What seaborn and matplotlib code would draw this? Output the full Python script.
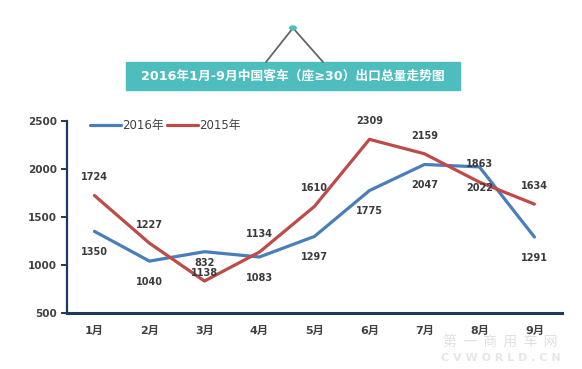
import numpy as np
import pandas as pd
import seaborn as sns
import matplotlib.pyplot as plt
from matplotlib.patches import Rectangle, Circle
from matplotlib.lines import Line2D

# data
months = ['1月', '2月', '3月', '4月', '5月', '6月', '7月', '8月', '9月']
sales_2016 = [1350, 1040, 1138, 1083, 1297, 1775, 2047, 2022, 1291]
sales_2015 = [1724, 1227, 832, 1134, 1610, 2309, 2159, 1863, 1634]
series_names = ['2016年', '2015年']
title_text = '2016年1月-9月中国客车（座≥30）出口总量走势图'

df = pd.DataFrame({
    'month': list(range(len(months))) * 2,
    'value': sales_2016 + sales_2015,
    'year': [series_names[0]] * len(months) + [series_names[1]] * len(months),
})

sns.set_theme(style='white')
plt.rcParams['font.family'] = ['DejaVu Sans', 'Noto Sans CJK SC']

fig = plt.figure(figsize=(5.82, 3.69), dpi=100)
ax = fig.add_axes([0.115, 0.152, 0.8505, 0.520])

colors = {series_names[0]: '#4a7ebb', series_names[1]: '#be4b48'}
sns.lineplot(data=df, x='month', y='value', hue='year', palette=colors,
             linewidth=2.3, ax=ax, legend=False)

ax.set_xlim(-0.5, len(months) - 0.5)
ax.set_ylim(500, 2500)
ax.set_yticks([500, 1000, 1500, 2000, 2500])
ax.set_xticks(range(len(months)))
ax.set_xticklabels(months)
ax.set_xticks(np.arange(-0.5, len(months)), minor=True)
ax.set_xlabel('')
ax.set_ylabel('')

navy = '#1d3a5a'
for s in ['top', 'right']:
    ax.spines[s].set_visible(False)
ax.spines['left'].set_color(navy)
ax.spines['left'].set_linewidth(1.6)
ax.spines['bottom'].set_color(navy)
ax.spines['bottom'].set_linewidth(2.2)
ax.tick_params(axis='x', which='major', length=0, pad=9, labelsize=8,
               labelcolor='#404040')
ax.tick_params(axis='x', which='minor', length=4, width=1.6, color=navy,
               direction='inout')
ax.tick_params(axis='y', length=4, width=1.4, color=navy, direction='out',
               labelsize=7.5, labelcolor='#404040', pad=3, left=True)
for lab in ax.get_yticklabels() + ax.get_xticklabels():
    lab.set_fontweight('bold')

# value labels: 2015 above the red line, 2016 below the blue line
for i, v in enumerate(sales_2015):
    ax.annotate(str(v), (i, v), xytext=(0, 13), textcoords='offset points',
                ha='center', va='center', fontsize=7, fontweight='bold',
                color='#3a3a3a')
for i, v in enumerate(sales_2016):
    ax.annotate(str(v), (i, v), xytext=(0, -15), textcoords='offset points',
                ha='center', va='center', fontsize=7, fontweight='bold',
                color='#3a3a3a')

# legend
handles = [Line2D([0], [0], color=colors[n], lw=2.3) for n in series_names]
leg = ax.legend(handles, series_names, loc='upper left',
                bbox_to_anchor=(0.025, 1.065), ncol=2, frameon=False,
                fontsize=8.5, handlelength=2.6, handletextpad=0.1,
                columnspacing=0.3, labelcolor='#404040')

# title banner with hanging triangle
teal = '#4dbdbd'
fig.patches.append(Rectangle((126 / 582, 1 - 90 / 369), 334 / 582, 28 / 369,
                             transform=fig.transFigure, color=teal, zorder=1))
fig.lines.append(Line2D([266 / 582, 293 / 582, 323 / 582],
                        [1 - 62 / 369, 1 - 28 / 369, 1 - 62 / 369],
                        transform=fig.transFigure, color='#666666', lw=1.3))
fig.patches.append(Circle((293 / 582, 1 - 28 / 369), 3.2 / 582,
                          transform=fig.transFigure, color=teal, zorder=3))
fig.text(293 / 582, 1 - 76 / 369, title_text, ha='center', va='center',
         color='white', fontsize=9.2, fontweight='bold')

# watermark
fig.text(0.86, 0.075, '第  一  商  用  车  网', ha='center', va='center',
         color='#e0e0e0', fontsize=10, family=['Noto Sans CJK SC'])
fig.text(0.86, 0.03, 'C V W O R L D . C N', ha='center', va='center',
         color='#e6e6e6', fontsize=8, fontweight='bold')

fig.savefig('out.png', dpi=100, facecolor='white')
